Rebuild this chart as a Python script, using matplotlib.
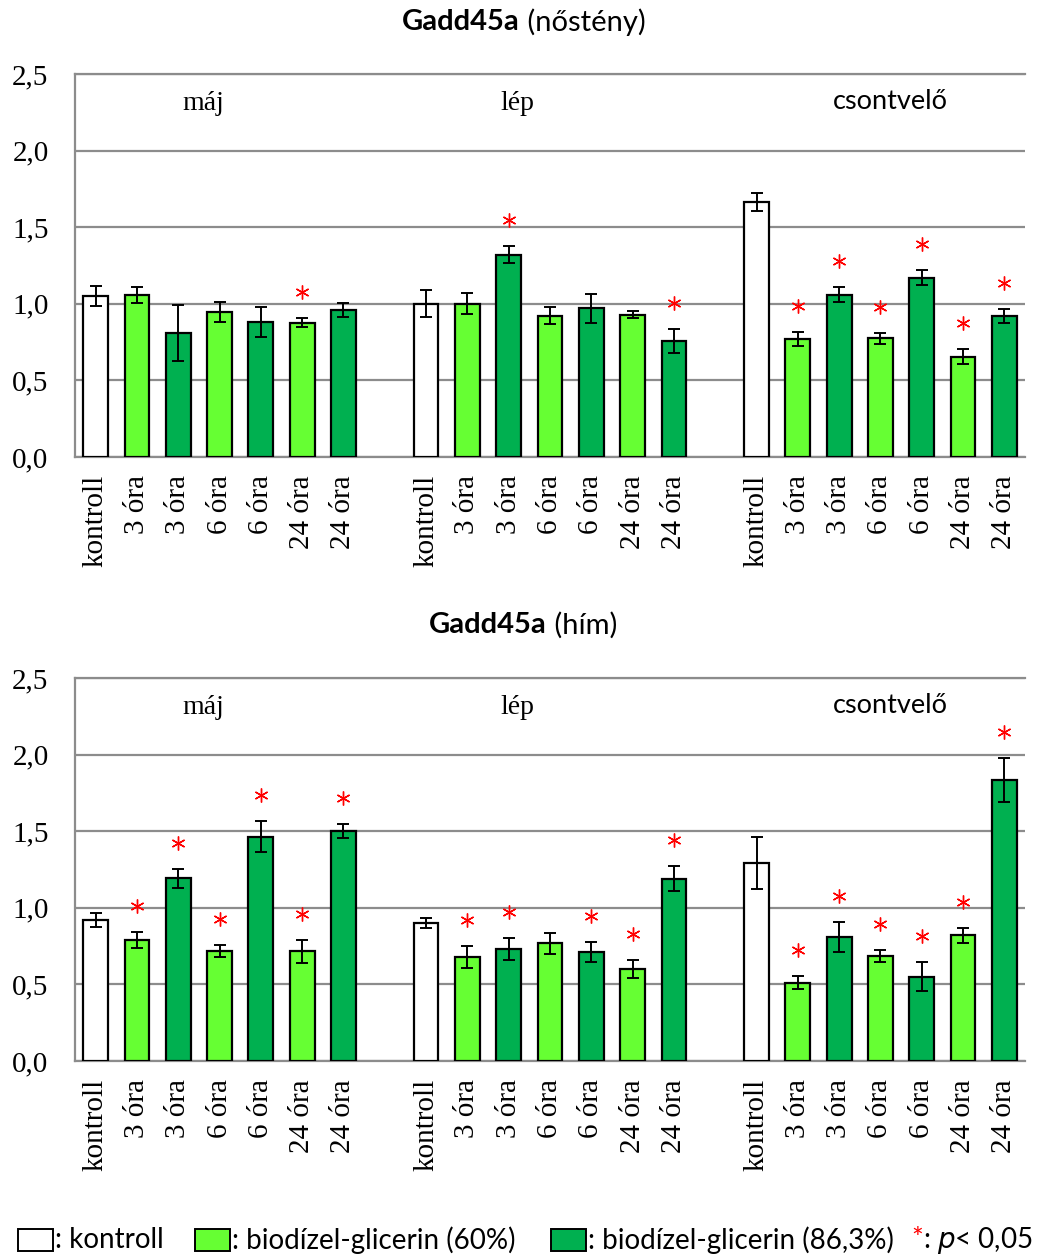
import numpy as np
import matplotlib
matplotlib.use("Agg")
import matplotlib.pyplot as plt
from matplotlib.patches import Rectangle

# --- adatok ---
tick_labels = ["kontroll", "3 óra", "3 óra", "6 óra", "6 óra", "24 óra", "24 óra"]
bar_kind = ["k", "60", "86", "60", "86", "60", "86"]
organs = ["máj", "lép", "csontvelő"]

# nőstény
f_maj = [1.05, 1.057, 0.81, 0.946, 0.879, 0.877, 0.959]
f_maj_err = [0.065, 0.05, 0.185, 0.065, 0.098, 0.028, 0.044]
f_maj_sig = [0, 0, 0, 0, 0, 1, 0]
f_lep = [1.0, 1.0, 1.32, 0.922, 0.97, 0.929, 0.757]
f_lep_err = [0.088, 0.068, 0.055, 0.057, 0.094, 0.024, 0.08]
f_lep_sig = [0, 0, 1, 0, 0, 0, 1]
f_csv = [1.662, 0.77, 1.06, 0.775, 1.17, 0.655, 0.92]
f_csv_err = [0.058, 0.048, 0.047, 0.037, 0.05, 0.048, 0.046]
f_csv_sig = [0, 1, 1, 1, 1, 1, 1]

# hím
m_maj = [0.92, 0.79, 1.192, 0.718, 1.464, 0.716, 1.501]
m_maj_err = [0.044, 0.052, 0.063, 0.037, 0.103, 0.074, 0.048]
m_maj_sig = [0, 1, 1, 1, 1, 1, 1]
m_lep = [0.903, 0.681, 0.731, 0.768, 0.711, 0.6, 1.19]
m_lep_err = [0.033, 0.072, 0.072, 0.067, 0.064, 0.061, 0.083]
m_lep_sig = [0, 1, 1, 0, 1, 1, 1]
m_csv = [1.29, 0.511, 0.811, 0.685, 0.551, 0.82, 1.832]
m_csv_err = [0.17, 0.044, 0.098, 0.037, 0.095, 0.05, 0.144]
m_csv_sig = [0, 1, 1, 1, 1, 1, 1]

colors = {"k": "white", "60": "#66FF33", "86": "#00B050"}
serif = "Liberation Serif"
sans = "Lato"
grid_c = "#8c8c8c"

fig = plt.figure(figsize=(10.5, 12.57), dpi=100)


def draw_panel(ax, groups):
    xs_all, labels_all = [], []
    for g, (means, errs, sig) in enumerate(groups):
        x = np.arange(7) + g * 8
        ax.bar(x, means, width=0.6, color=[colors[k] for k in bar_kind],
               edgecolor="black", linewidth=1.6, zorder=3,
               yerr=errs, capsize=4.5,
               error_kw=dict(elinewidth=1.4, capthick=1.4, ecolor="black", zorder=4))
        for xi, m, e, s in zip(x, means, errs, sig):
            if s:
                ax.plot(xi, m + e + 0.17, marker=(6, 2, 0), color="red",
                        markersize=10, markeredgewidth=1.0, zorder=5)
        xs_all += list(x)
        labels_all += tick_labels

    ax.set_xlim(-0.5, 22.5)
    ax.set_ylim(0, 2.5)
    ax.set_yticks(np.arange(0, 2.51, 0.5))
    ax.set_yticklabels([("%.1f" % v).replace(".", ",") for v in np.arange(0, 2.51, 0.5)],
                       fontfamily=serif, fontsize=21)
    ax.set_xticks(xs_all)
    ax.set_xticklabels(labels_all, rotation=90, fontfamily=serif, fontsize=21)
    ax.tick_params(axis="y", length=0, pad=19)
    ax.tick_params(axis="x", length=0, pad=13)
    ax.yaxis.grid(True, color=grid_c, linewidth=1.6, zorder=0)
    ax.set_axisbelow(True)
    for side in ["left", "bottom", "top"]:
        ax.spines[side].set_color(grid_c)
        ax.spines[side].set_linewidth(1.6)
    ax.spines["right"].set_visible(False)

    ax.text(2.6, 2.31, organs[0], fontfamily=serif, fontsize=20, ha="center", va="center")
    ax.text(10.2, 2.31, organs[1], fontfamily=serif, fontsize=20, ha="center", va="center")
    ax.text(19.25, 2.32, organs[2], fontfamily=sans, fontsize=19.5, ha="center", va="center")


ax1 = fig.add_axes([75 / 1050, 1 - 457 / 1257, 950 / 1050, 383 / 1257])
draw_panel(ax1, [(f_maj, f_maj_err, f_maj_sig),
                 (f_lep, f_lep_err, f_lep_sig),
                 (f_csv, f_csv_err, f_csv_sig)])

ax2 = fig.add_axes([75 / 1050, 1 - 1061 / 1257, 950 / 1050, 383 / 1257])
draw_panel(ax2, [(m_maj, m_maj_err, m_maj_sig),
                 (m_lep, m_lep_err, m_lep_sig),
                 (m_csv, m_csv_err, m_csv_sig)])

# címek: félkövér génnév + nem
def title(xsplit, ypix, sex):
    fig.text(xsplit / 1050, 1 - ypix / 1257, "Gadd45a", fontfamily=sans, fontsize=21,
             fontweight="bold", ha="right", va="center")
    fig.text(xsplit / 1050, 1 - ypix / 1257, " (" + sex + ")", fontfamily=sans,
             fontsize=21, ha="left", va="center")


title(520, 22, "nőstény")
title(547, 625, "hím")

# jelmagyarázat
ly = 1 - 1240 / 1257
bw, bh = 35 / 1050, 22 / 1257
for x0, c in [(18, "white"), (195, "#66FF33"), (551, "#00B050")]:
    fig.patches.append(Rectangle((x0 / 1050, ly - bh / 2), bw, bh, facecolor=c,
                                 edgecolor="black", linewidth=1.4,
                                 transform=fig.transFigure, figure=fig))
fs_leg = 20
fig.text(55 / 1050, ly, ": kontroll", fontfamily=sans, fontsize=fs_leg, ha="left", va="center")
fig.text(232 / 1050, ly, ": biodízel-glicerin (60%)", fontfamily=sans, fontsize=fs_leg,
         ha="left", va="center")
fig.text(588 / 1050, ly, ": biodízel-glicerin (86,3%)", fontfamily=sans, fontsize=fs_leg,
         ha="left", va="center")
fig.text(911 / 1050, ly, "*", fontfamily=sans, fontsize=fs_leg, color="red", ha="left", va="center")
fig.text(923 / 1050, ly, ": $\\it{p}$< 0,05", fontfamily=sans, fontsize=fs_leg, ha="left", va="center")

fig.savefig("out.png", dpi=100)
